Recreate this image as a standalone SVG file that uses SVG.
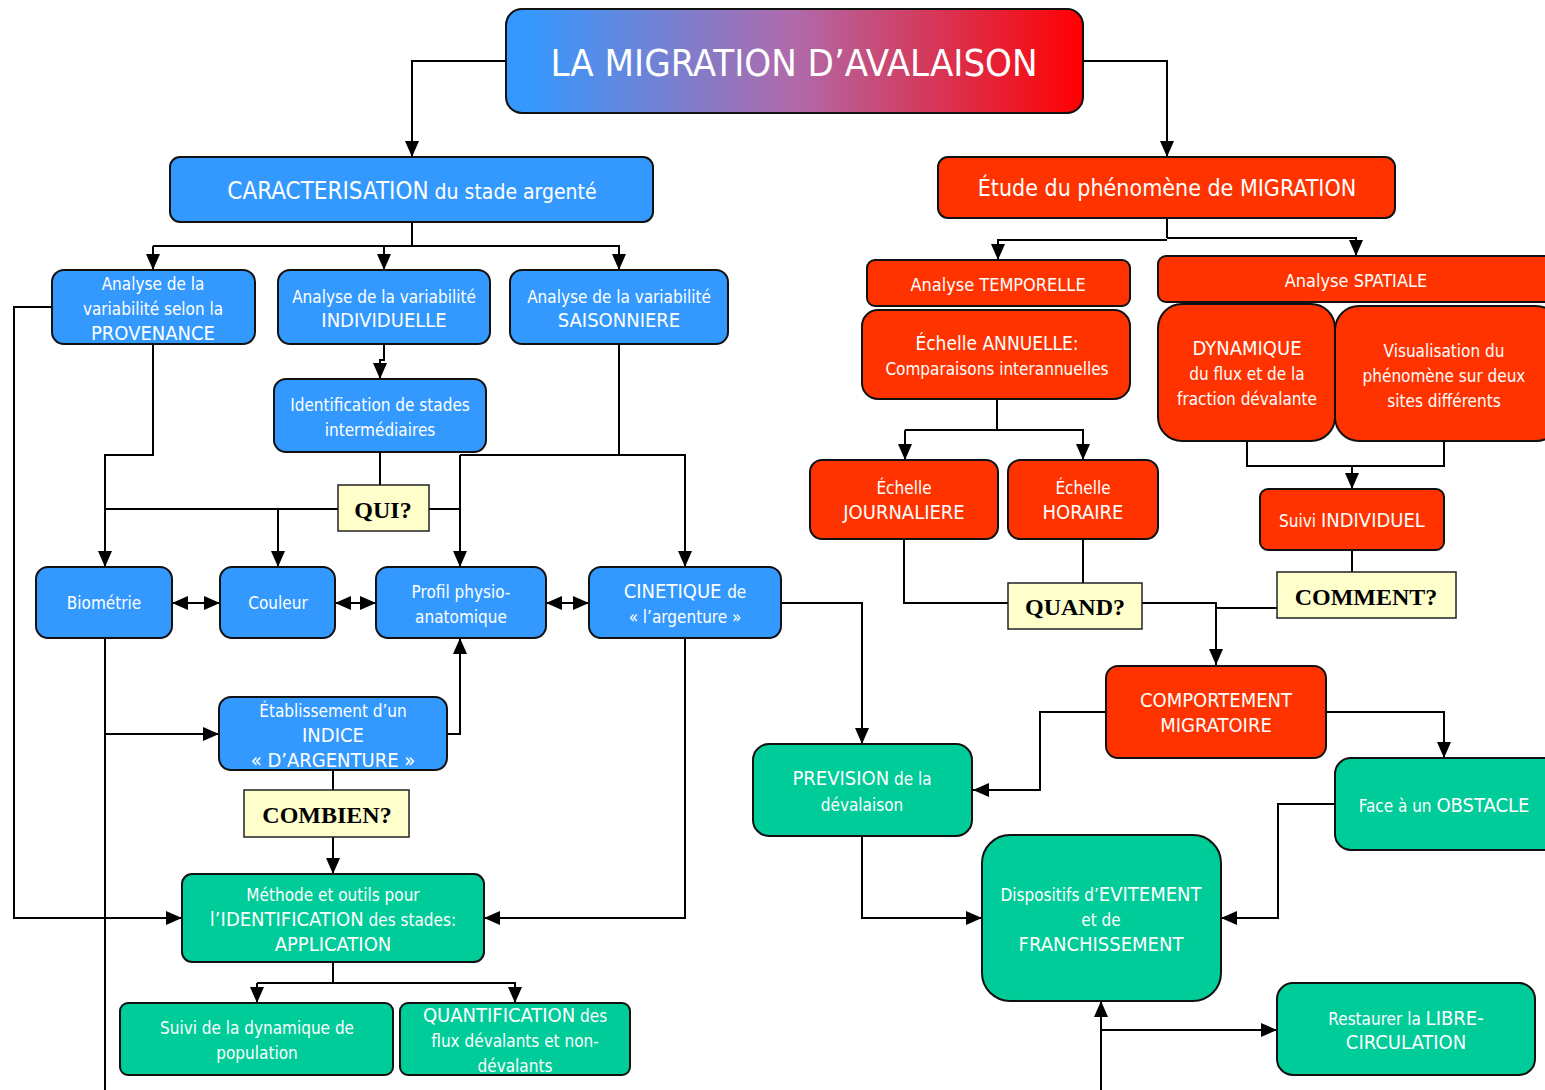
<svg xmlns="http://www.w3.org/2000/svg" width="1545" height="1090" viewBox="0 0 1545 1090">
<defs>
<linearGradient id="tg" x1="0" y1="0" x2="1" y2="0">
<stop offset="0.03" stop-color="#3399ff"/>
<stop offset="0.5" stop-color="#b06aaa"/>
<stop offset="1" stop-color="#ff0000"/>
</linearGradient>
<marker id="ah" viewBox="0 0 16 14" refX="16" refY="7" markerWidth="16" markerHeight="14" markerUnits="userSpaceOnUse" orient="auto">
<path d="M0,0 L16,7 L0,14 Z" fill="#000"/>
</marker>
<marker id="as" viewBox="0 0 16 14" refX="0" refY="7" markerWidth="16" markerHeight="14" markerUnits="userSpaceOnUse" orient="auto">
<path d="M16,0 L0,7 L16,14 Z" fill="#000"/>
</marker>
</defs>
<style>
.n{stroke:#111;stroke-width:2}
.b{fill:#3399ff}
.r{fill:#ff3300}
.g{fill:#00cc99}
.q{fill:#ffffcc;stroke:#222;stroke-width:1.5}
.t{font-family:"Liberation Sans Narrow","DejaVu Sans Condensed","Liberation Sans",sans-serif;fill:#fff;text-anchor:middle;font-size:17px}
.c{font-size:20px}
.k{font-family:"Liberation Serif",serif;font-weight:bold;font-size:24px;fill:#000;text-anchor:middle}
.l{fill:none;stroke:#000;stroke-width:2}
.e{marker-end:url(#ah)}
.s{marker-start:url(#as)}
</style>
<g id="connectors">
<path class="l e" d="M506,61 H412 V157"/>
<path class="l e" d="M1083,61 H1167 V157"/>
<path class="l" d="M412,222 V246"/>
<path class="l e" d="M153,246 H619 V270"/>
<path class="l e" d="M153,246 V270"/>
<path class="l e" d="M384,246 V270"/>
<path class="l e" d="M384,344 V360 H380 V379"/>
<path class="l" d="M380,452 V485"/>
<path class="l e" d="M153,344 V455 H105 V567"/>
<path class="l" d="M338,509 H105"/>
<path class="l e" d="M278,509 V567"/>
<path class="l" d="M429,509 H460"/>
<path class="l e" d="M460,455 V567"/>
<path class="l e" d="M460,455 H685 V567"/>
<path class="l" d="M619,344 V455"/>
<path class="l e s" d="M172,603 H220"/>
<path class="l e s" d="M335,603 H376"/>
<path class="l e s" d="M546,603 H589"/>
<path class="l" d="M105,638 V1090"/>
<path class="l e" d="M105,734 H219"/>
<path class="l e" d="M447,734 H460 V638"/>
<path class="l" d="M333,770 V790"/>
<path class="l e" d="M333,837 V874"/>
<path class="l e" d="M52,307 H14 V918 H182"/>
<path class="l e" d="M685,638 V918 H484"/>
<path class="l" d="M333,962 V983"/>
<path class="l e" d="M257,983 H515 V1003"/>
<path class="l e" d="M257,983 V1003"/>
<path class="l" d="M1167,218 V238"/>
<path class="l e" d="M1167,240 H998 V260"/>
<path class="l e" d="M1167,238 H1356 V256"/>
<path class="l" d="M997,399 V430"/>
<path class="l e" d="M905,430 H1083 V460"/>
<path class="l e" d="M905,430 V460"/>
<path class="l" d="M1247,441 V466 H1444 V441"/>
<path class="l e" d="M1352,466 V489"/>
<path class="l" d="M1352,550 V572"/>
<path class="l" d="M1083,539 V583"/>
<path class="l" d="M904,539 V603 H1008"/>
<path class="l e" d="M1142,603 H1216 V665"/>
<path class="l" d="M1277,608 H1216"/>
<path class="l e" d="M1106,712 H1040 V790 H973"/>
<path class="l e" d="M1326,712 H1444 V758"/>
<path class="l e" d="M781,603 H862 V744"/>
<path class="l e" d="M862,836 V918 H982"/>
<path class="l e" d="M1335,804 H1278 V918 H1221"/>
<path class="l e" d="M1101,1090 V1001"/>
<path class="l e" d="M1101,1030 H1277"/>
</g>
<g id="title">
<rect class="n" x="506" y="9" width="577" height="104" rx="16" fill="url(#tg)"/>
<text class="t" x="794" y="76" style="font-size:38px">LA MIGRATION D’AVALAISON</text>
</g>
<g id="caract">
<rect class="n b" x="170" y="157" width="483" height="65" rx="10"/>
<text class="t" x="412" y="199"><tspan style="font-size:24px">CARACTERISATION</tspan><tspan style="font-size:21px"> du stade argenté</tspan></text>
</g>
<g id="etude">
<rect class="n r" x="938" y="157" width="457" height="61" rx="10"/>
<text class="t" x="1167" y="196" style="font-size:23px">Étude du phénomène de MIGRATION</text>
</g>
<g id="provenance">
<rect class="n b" x="52" y="270" width="203" height="74" rx="12"/>
<text class="t" x="153" y="290">Analyse de la</text>
<text class="t" x="153" y="315">variabilité selon la</text>
<text class="t c" x="153" y="340">PROVENANCE</text>
</g>
<g id="individuelle">
<rect class="n b" x="278" y="270" width="212" height="74" rx="12"/>
<text class="t" x="384" y="303">Analyse de la variabilité</text>
<text class="t c" x="384" y="327">INDIVIDUELLE</text>
</g>
<g id="saisonniere">
<rect class="n b" x="510" y="270" width="218" height="74" rx="12"/>
<text class="t" x="619" y="303">Analyse de la variabilité</text>
<text class="t c" x="619" y="327">SAISONNIERE</text>
</g>
<g id="identification">
<rect class="n b" x="274" y="379" width="212" height="73" rx="12"/>
<text class="t" x="380" y="411">Identification de stades</text>
<text class="t" x="380" y="436">intermédiaires</text>
</g>
<g id="qui">
<rect class="q" x="338" y="485" width="91" height="46"/>
<text class="k" x="383" y="518">QUI?</text>
</g>
<g id="biometrie">
<rect class="n b" x="36" y="567" width="136" height="71" rx="12"/>
<text class="t" x="104" y="609">Biométrie</text>
</g>
<g id="couleur">
<rect class="n b" x="220" y="567" width="115" height="71" rx="12"/>
<text class="t" x="278" y="609">Couleur</text>
</g>
<g id="profil">
<rect class="n b" x="376" y="567" width="170" height="71" rx="12"/>
<text class="t" x="461" y="598">Profil physio-</text>
<text class="t" x="461" y="623">anatomique</text>
</g>
<g id="cinetique">
<rect class="n b" x="589" y="567" width="192" height="71" rx="12"/>
<text class="t c" x="685" y="598">CINETIQUE <tspan style="font-size:17px">de</tspan></text>
<text class="t" x="685" y="623">« l’argenture »</text>
</g>
<g id="indice">
<rect class="n b" x="219" y="697" width="228" height="73" rx="12"/>
<text class="t" x="333" y="717">Établissement d’un</text>
<text class="t c" x="333" y="742">INDICE</text>
<text class="t c" x="333" y="767">« D’ARGENTURE »</text>
</g>
<g id="combien">
<rect class="q" x="244" y="790" width="165" height="47"/>
<text class="k" x="327" y="823">COMBIEN?</text>
</g>
<g id="methode">
<rect class="n g" x="182" y="874" width="302" height="88" rx="10"/>
<text class="t" x="333" y="901">Méthode et outils pour</text>
<text class="t" x="333" y="926"><tspan class="c">l’IDENTIFICATION</tspan> des stades:</text>
<text class="t c" x="333" y="951">APPLICATION</text>
</g>
<g id="suivi-dyn">
<rect class="n g" x="120" y="1003" width="273" height="72" rx="8"/>
<text class="t" x="257" y="1034">Suivi de la dynamique de</text>
<text class="t" x="257" y="1059">population</text>
</g>
<g id="quantification">
<rect class="n g" x="400" y="1003" width="230" height="72" rx="8"/>
<text class="t" x="515" y="1022"><tspan class="c">QUANTIFICATION</tspan> des</text>
<text class="t" x="515" y="1047">flux dévalants et non-</text>
<text class="t" x="515" y="1072">dévalants</text>
</g>
<g id="temporelle">
<rect class="n r" x="867" y="260" width="263" height="46" rx="8"/>
<text class="t" x="998" y="291" style="font-size:18px">Analyse TEMPORELLE</text>
</g>
<g id="spatiale">
<rect class="n r" x="1158" y="256" width="400" height="46" rx="8"/>
<text class="t" x="1356" y="287" style="font-size:18px">Analyse SPATIALE</text>
</g>
<g id="annuelle">
<rect class="n r" x="862" y="310" width="268" height="89" rx="16"/>
<text class="t" x="997" y="350" style="font-size:19px">Échelle ANNUELLE:</text>
<text class="t" x="997" y="375">Comparaisons interannuelles</text>
</g>
<g id="dynamique">
<rect class="n r" x="1158" y="304" width="177" height="137" rx="24"/>
<text class="t c" x="1247" y="355">DYNAMIQUE</text>
<text class="t" x="1247" y="380">du flux et de la</text>
<text class="t" x="1247" y="405">fraction dévalante</text>
</g>
<g id="visualisation">
<rect class="n r" x="1335" y="306" width="225" height="135" rx="24"/>
<text class="t" x="1444" y="357">Visualisation du</text>
<text class="t" x="1444" y="382">phénomène sur deux</text>
<text class="t" x="1444" y="407">sites différents</text>
</g>
<g id="journaliere">
<rect class="n r" x="810" y="460" width="188" height="79" rx="12"/>
<text class="t" x="904" y="494">Échelle</text>
<text class="t c" x="904" y="519">JOURNALIERE</text>
</g>
<g id="horaire">
<rect class="n r" x="1008" y="460" width="150" height="79" rx="12"/>
<text class="t" x="1083" y="494">Échelle</text>
<text class="t c" x="1083" y="519">HORAIRE</text>
</g>
<g id="suivi-ind">
<rect class="n r" x="1260" y="489" width="184" height="61" rx="8"/>
<text class="t" x="1352" y="527"><tspan>Suivi</tspan> <tspan class="c">INDIVIDUEL</tspan></text>
</g>
<g id="quand">
<rect class="q" x="1008" y="583" width="134" height="46"/>
<text class="k" x="1075" y="615">QUAND?</text>
</g>
<g id="comment">
<rect class="q" x="1277" y="572" width="179" height="46"/>
<text class="k" x="1366" y="605">COMMENT?</text>
</g>
<g id="comportement">
<rect class="n r" x="1106" y="666" width="220" height="92" rx="12"/>
<text class="t c" x="1216" y="707">COMPORTEMENT</text>
<text class="t c" x="1216" y="732">MIGRATOIRE</text>
</g>
<g id="prevision">
<rect class="n g" x="753" y="744" width="219" height="92" rx="16"/>
<text class="t" x="862" y="785"><tspan class="c">PREVISION</tspan> de la</text>
<text class="t" x="862" y="811">dévalaison</text>
</g>
<g id="obstacle">
<rect class="n g" x="1335" y="758" width="225" height="92" rx="16"/>
<text class="t" x="1444" y="812">Face à un <tspan class="c">OBSTACLE</tspan></text>
</g>
<g id="dispositifs">
<rect class="n g" x="982" y="835" width="239" height="166" rx="28"/>
<text class="t" x="1101" y="901">Dispositifs d’<tspan class="c">EVITEMENT</tspan></text>
<text class="t" x="1101" y="926">et de</text>
<text class="t c" x="1101" y="951">FRANCHISSEMENT</text>
</g>
<g id="restaurer">
<rect class="n g" x="1277" y="983" width="258" height="92" rx="16"/>
<text class="t" x="1406" y="1025">Restaurer la <tspan class="c">LIBRE-</tspan></text>
<text class="t c" x="1406" y="1049">CIRCULATION</text>
</g>
</svg>
